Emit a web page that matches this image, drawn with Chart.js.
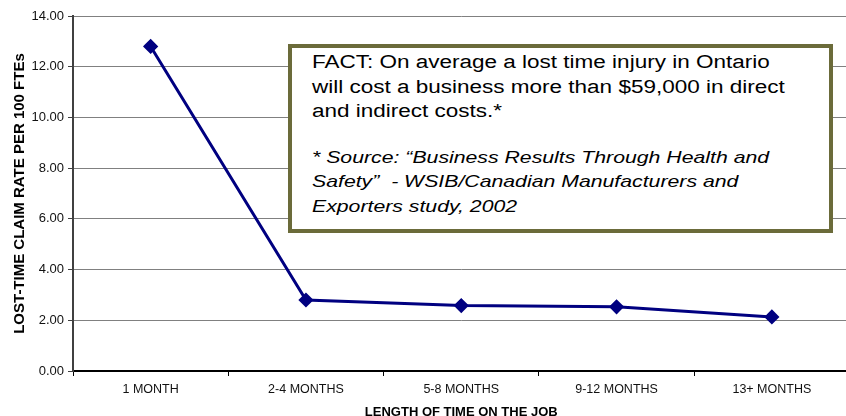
<!DOCTYPE html>
<html>
<head>
<meta charset="utf-8">
<script src="https://cdn.jsdelivr.net/npm/chart.js@4/dist/chart.umd.min.js"></script>
<style>
  html, body { margin: 0; padding: 0; background: #fff; overflow: hidden; }
  #wrap { position: relative; width: 858px; height: 416px; }
  #note {
    position: absolute; left: 288px; top: 44px; width: 545px; height: 189px;
    box-sizing: border-box; border: 4px solid #6b6b3a; background: #fff;
    padding: 2px 0 0 20px; font-family: "Liberation Sans", Arial, sans-serif; color: #000;
    overflow: hidden;
  }
  #note .line { white-space: nowrap; transform-origin: 0 0; transform: scaleX(1.25); }
  #note .fact { font-size: 18px; line-height: 24.5px; }
  #note .src { font-size: 17px; line-height: 24.5px; font-style: italic; }
  #note .gap { height: 22px; }
</style>
</head>
<body>
<div id="wrap">
  <canvas id="chartCanvas"></canvas>
  <div id="note">
    <div class="line fact">FACT: On average a lost time injury in Ontario</div>
    <div class="line fact">will cost a business more than $59,000 in direct</div>
    <div class="line fact">and indirect costs.*</div>
    <div class="gap"></div>
    <div class="line src">* Source: “Business Results Through Health and</div>
    <div class="line src">Safety”&nbsp; - WSIB/Canadian Manufacturers and</div>
    <div class="line src">Exporters study, 2002</div>
  </div>
</div>
<script>
const categories = ['1 MONTH', '2-4 MONTHS', '5-8 MONTHS', '9-12 MONTHS', '13+ MONTHS'];
const claimRates = [12.8, 2.8, 2.58, 2.53, 2.13];
const yTicks = [0, 2, 4, 6, 8, 10, 12, 14];

const font = "'Liberation Sans', Arial, sans-serif";
const ctx = document.getElementById('chartCanvas').getContext('2d');

new Chart(ctx, {
    type: 'line',
    data: {
        labels: categories,
        datasets: [{
            data: claimRates,
            borderColor: '#000080',
            backgroundColor: '#000080',
            borderWidth: 3,
            pointStyle: 'rectRot',
            pointRadius: 5.5,
            pointHoverRadius: 5.5,
            tension: 0
        }]
    },
    options: {
        responsive: true,
        maintainAspectRatio: false,
        animation: false,
        layout: { padding: { top: 16, left: 12, right: 0, bottom: 0 } },
        plugins: { legend: { display: false }, tooltip: { enabled: false } },
        scales: {
            x: {
                offset: true,
                grid: { offset: true, drawOnChartArea: false, tickLength: 5, color: '#000' },
                border: { color: '#000', width: 2 },
                ticks: { color: '#111', padding: 6, font: { family: font, size: 12.5 } },
                title: {
                    display: true, text: 'LENGTH OF TIME ON THE JOB', color: '#000',
                    font: { family: font, size: 13, weight: 'bold', lineHeight: 0.5 },
                    padding: 0
                },
                afterFit: s => { s.height = 45; }
            },
            y: {
                min: 0,
                max: 14,
                afterBuildTicks: s => { s.ticks = yTicks.map(v => ({ value: v })); },
                grid: { color: '#808080', lineWidth: 1, tickLength: 5, tickColor: '#404040' },
                border: { color: '#404040', width: 2 },
                ticks: {
                    color: '#111', padding: 4, font: { family: font, size: 13 },
                    callback: v => Number(v).toFixed(2)
                },
                title: {
                    display: true, text: 'LOST-TIME CLAIM RATE PER 100 FTEs', color: '#000',
                    font: { family: font, size: 15, weight: 'bold', lineHeight: 1 },
                    padding: 0
                },
                afterFit: s => { s.width = 61; }
            }
        }
    }
});
</script>
</body>
</html>
